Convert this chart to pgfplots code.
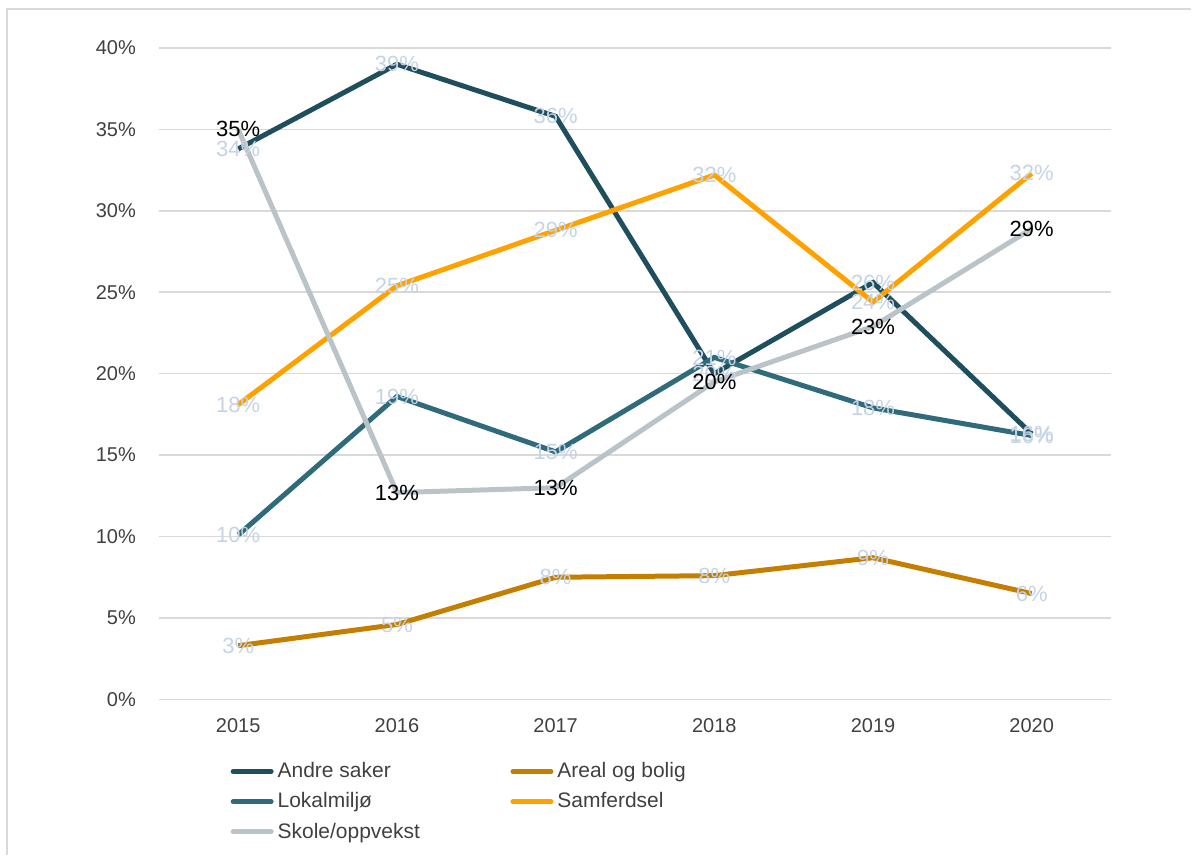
\documentclass[border=0pt]{standalone}
\usepackage{fontspec}
\setmainfont{Liberation Sans}
\usepackage{pgfplots}
\usepackage{pgfplotstable}
\pgfplotsset{compat=1.18}

\definecolor{andre}{HTML}{1F4E5C}
\definecolor{areal}{HTML}{C47E00}
\definecolor{lokal}{HTML}{2F6B7B}
\definecolor{samf}{HTML}{FFA200}
\definecolor{skole}{HTML}{BAC3C7}
\definecolor{gridc}{HTML}{D9D9D9}
\definecolor{txt}{HTML}{404040}
\definecolor{pale}{HTML}{C4D3E6}

% year, value, label
\pgfplotstableread{
x y lab
0 33.8 34\%
1 39.0 39\%
2 35.8 36\%
3 20.0 20\%
4 25.6 26\%
5 16.3 16\%
}\andre
\pgfplotstableread{
x y lab
0 3.3 3\%
1 4.6 5\%
2 7.5 8\%
3 7.6 8\%
4 8.7 9\%
5 6.5 6\%
}\areal
\pgfplotstableread{
x y lab
0 10.1 10\%
1 18.6 19\%
2 15.2 15\%
3 21.0 21\%
4 17.9 18\%
5 16.2 16\%
}\lokal
\pgfplotstableread{
x y lab
0 18.1 18\%
1 25.4 25\%
2 28.8 29\%
3 32.2 32\%
4 24.4 24\%
5 32.3 32\%
}\samf
\pgfplotstableread{
x y lab
0 35.0 35\%
1 12.7 13\%
2 13.0 13\%
3 19.5 20\%
4 22.9 23\%
5 28.9 29\%
}\skole

\begin{document}
\begin{tikzpicture}
\path (0,0) rectangle (596pt,428pt);
\draw[gridc, line width=1pt] (3.5pt,0pt) -- (3.5pt,423.5pt) -- (596pt,423.5pt);
\begin{axis}[
  at={(79.5pt,78pt)}, anchor=south west,
  width=476.5pt, height=326pt, scale only axis,
  xmin=-0.5, xmax=5.5, ymin=0, ymax=40,
  xtick={0,...,5}, xticklabels={2015,2016,2017,2018,2019,2020},
  ytick={0,5,...,40}, yticklabel={\pgfmathprintnumber{\tick}\%},
  /pgf/number format/assume math mode=true,
  tick label style={font=\fontsize{10}{12}\selectfont, text=txt},
  yticklabel style={xshift=-8pt},
  xticklabel style={yshift=-6pt},
  axis line style={draw=none}, major tick length=0pt,
  ymajorgrids, grid style={gridc, line width=0.8pt},
  every axis plot/.append style={line width=2.5pt, no marks,
    nodes near coords, point meta=explicit symbolic,
    nodes near coords style={anchor=center, font=\fontsize{11}{13}\selectfont, text=pale}},
  legend columns=2,
  legend cell align=left,
  legend image code/.code={\draw[#1, line width=2.5pt, line cap=round] (0pt,0pt) -- (19pt,0pt);},
  legend style={at={(axis description cs:0.075,-0.09)}, anchor=north west,
    draw=none, fill=none, font=\fontsize{10.5}{12}\selectfont, text=txt,
    inner sep=0pt, row sep=2pt},
]
\addplot[andre] table[x=x,y=y,meta=lab] {\andre};
\addlegendentry{\makebox[114.5pt][l]{Andre saker}}
\addplot[areal] table[x=x,y=y,meta=lab] {\areal};
\addlegendentry{Areal og bolig}
\addplot[lokal] table[x=x,y=y,meta=lab] {\lokal};
\addlegendentry{\makebox[114.5pt][l]{Lokalmiljø}}
\addplot[samf] table[x=x,y=y,meta=lab] {\samf};
\addlegendentry{Samferdsel}
\addplot[skole, nodes near coords style={text=black}] table[x=x,y=y,meta=lab] {\skole};
\addlegendentry{\makebox[114.5pt][l]{Skole/oppvekst}}
\end{axis}
\end{tikzpicture}
\end{document}
